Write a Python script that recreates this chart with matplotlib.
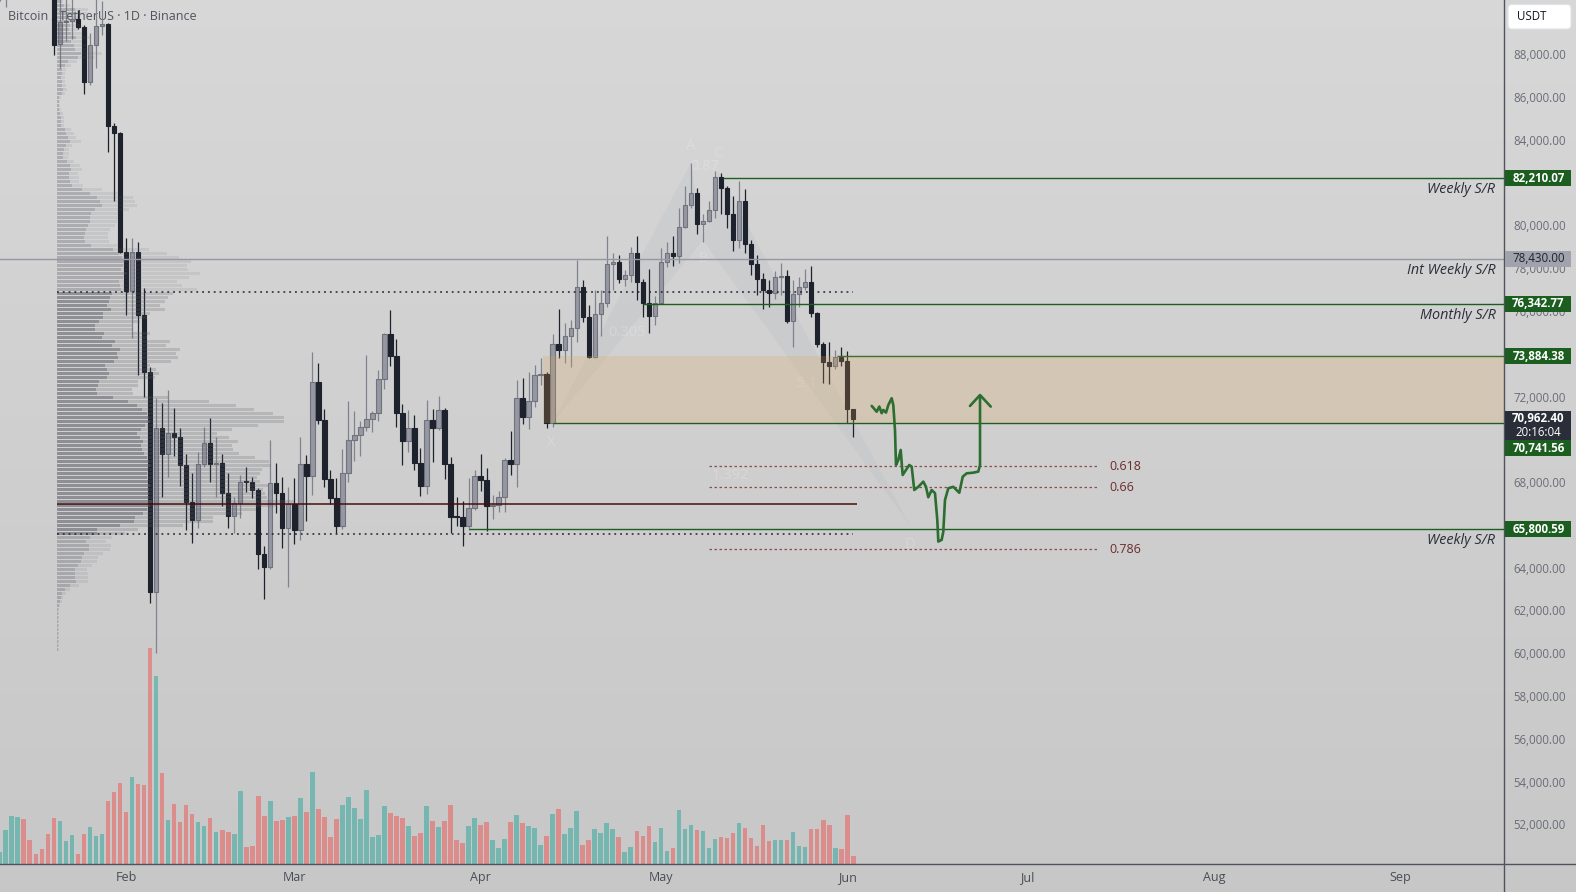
import numpy as np
import pandas as pd
import matplotlib
matplotlib.use("Agg")
import matplotlib.pyplot as plt
import matplotlib.dates as mdates
from matplotlib.patches import Rectangle, Polygon, FancyBboxPatch

plt.rcParams['font.family'] = ['Open Sans', 'DejaVu Sans']

# ------------------------------------------------------------------ data
dates = pd.date_range('2026-01-11', periods=143, freq='D')

open_k = [91.0, 91.9, 92.9, 94.6, 96.8, 95.5, 95.1, 95.0, 92.6,
          91.6, 88.47, 89.50, 89.56, 89.64, 89.26, 86.72, 88.43, 89.32, 89.40, 84.67, 84.32,
          78.77, 76.95, 78.77, 75.81, 73.16, 62.88, 70.54, 69.31, 70.30, 70.12,
          68.80, 67.06, 66.23, 68.83, 69.82, 68.83, 68.90, 67.48, 66.43, 67.01,
          68.02, 68.00, 67.63, 64.63, 64.05, 67.97, 67.47, 65.84, 66.98, 65.76,
          68.83, 68.30, 72.67, 70.90, 68.13, 67.24, 65.96, 68.41, 69.96, 70.19,
          70.56, 70.94, 71.22, 72.81, 74.92, 73.91, 71.25, 69.94, 70.53, 68.91,
          67.83, 70.90, 70.54, 71.37, 68.83, 66.38, 66.36, 65.96, 66.78, 68.29,
          68.10, 66.90, 66.93, 67.29, 69.02, 68.83, 71.92, 71.06, 71.78, 72.99,
          73.03, 70.75, 74.44, 74.16, 74.82, 75.19, 77.11, 75.71, 73.84, 75.85,
          76.36, 78.18, 78.28, 77.48, 77.67, 78.70, 77.37, 76.36, 75.78, 76.36,
          78.28, 78.70, 78.59, 79.91, 80.94, 81.50, 80.05, 80.22, 80.72, 82.25,
          81.76, 80.52, 79.32, 81.14, 79.12, 78.18, 77.48, 76.98, 76.86, 77.58,
          77.62, 75.55, 76.78, 77.11, 77.34, 75.92, 74.44, 73.63, 73.44, 73.86,
          73.66, 71.40]
high_k = [92.3, 93.5, 95.0, 97.5, 97.8, 96.0, 95.5, 95.2, 93.0,
          92.0, 90.7, 90.9, 91.0, 90.07, 89.37, 88.98, 90.6, 90.5, 89.45, 84.79, 84.35,
          79.43, 79.41, 79.24, 77.07, 73.40, 71.92, 71.68, 72.31, 71.46, 70.53,
          69.30, 68.41, 69.42, 70.59, 70.98, 70.12, 69.30, 68.44, 67.32, 68.33,
          68.69, 68.25, 67.71, 65.01, 69.99, 68.88, 68.22, 67.76, 68.18, 70.12,
          69.27, 74.07, 73.55, 71.42, 68.57, 68.18, 69.55, 71.79, 71.33, 70.85,
          73.94, 71.33, 73.24, 74.95, 76.05, 74.68, 71.65, 71.37, 71.14, 69.60,
          71.84, 71.42, 72.03, 71.46, 69.19, 67.32, 67.13, 68.18, 68.57, 69.32,
          68.65, 67.40, 67.59, 69.13, 70.39, 72.77, 72.87, 73.15, 73.48, 73.79,
          73.16, 74.92, 76.09, 75.44, 75.58, 78.38, 77.45, 76.28, 76.98, 76.98,
          79.51, 78.72, 78.62, 77.92, 78.98, 79.51, 77.50, 77.96, 76.70, 78.93,
          79.22, 79.51, 80.83, 81.84, 82.93, 81.74, 80.52, 81.14, 82.55, 82.47,
          81.84, 81.38, 82.08, 81.70, 79.32, 78.62, 77.76, 77.45, 77.87, 78.26,
          77.92, 77.45, 77.59, 77.95, 78.10, 75.97, 74.56, 74.54, 74.18, 74.33,
          74.13, 71.42]
low_k = [90.5, 90.23, 91.8, 94.0, 95.0, 94.8, 94.0, 92.3, 91.0,
         87.98, 87.35, 88.60, 88.70, 89.2, 86.14, 86.57, 87.35, 88.90, 83.45, 81.14, 78.7,
         75.81, 74.74, 73.01, 71.99, 62.36, 60.03, 67.32, 68.25, 69.24, 67.82,
         65.76, 65.14, 65.84, 68.72, 68.02, 67.32, 66.90, 65.84, 65.61, 66.31,
         67.55, 67.24, 63.92, 62.52, 63.92, 66.54, 64.93, 63.08, 65.09, 65.29,
         66.20, 67.40, 70.70, 67.79, 66.98, 65.63, 65.81, 68.02, 68.99, 69.24,
         70.40, 70.36, 70.87, 72.34, 73.43, 70.56, 68.80, 69.42, 68.57, 67.36,
         67.45, 68.95, 70.44, 68.15, 65.61, 65.95, 65.01, 65.76, 66.70, 67.60,
         65.73, 66.28, 66.62, 66.62, 68.33, 67.76, 70.72, 70.48, 71.50, 72.54,
         70.54, 70.59, 73.82, 73.55, 73.37, 74.56, 75.50, 73.80, 73.79, 74.84,
         76.20, 76.98, 77.32, 77.17, 77.37, 76.51, 75.73, 74.99, 75.36, 76.33,
         78.07, 78.12, 78.26, 79.86, 80.80, 79.59, 79.24, 80.15, 80.36, 80.52,
         79.89, 78.81, 78.93, 78.70, 77.68, 76.75, 76.11, 76.20, 76.56, 76.75,
         75.42, 74.33, 76.17, 76.98, 75.73, 74.33, 72.62, 72.57, 73.27, 73.44,
         70.75, 70.10]
close_k = [91.9, 92.9, 94.6, 96.8, 95.5, 95.1, 95.0, 92.6, 91.6,
           88.45, 89.50, 89.56, 89.64, 89.26, 86.72, 88.43, 89.32, 89.40, 84.67, 84.32, 78.77,
           76.95, 78.77, 75.81, 73.16, 62.88, 70.54, 69.31, 70.30, 70.12, 68.80,
           67.06, 66.23, 68.83, 69.82, 68.83, 68.90, 67.48, 66.43, 67.01, 68.02,
           68.00, 67.63, 64.63, 64.05, 67.97, 67.47, 65.84, 66.98, 65.76, 68.83,
           68.30, 72.67, 70.90, 68.13, 67.24, 65.96, 68.41, 69.96, 70.19, 70.56,
           70.94, 71.22, 72.81, 74.92, 73.91, 71.25, 69.94, 70.53, 68.91, 67.83,
           70.90, 70.54, 71.37, 68.83, 66.38, 66.36, 65.96, 66.78, 68.29, 68.10,
           66.90, 66.93, 67.29, 69.02, 68.83, 71.92, 71.06, 71.78, 72.99, 73.03,
           70.75, 74.44, 74.16, 74.82, 75.19, 77.11, 75.71, 73.84, 75.85, 76.36,
           78.18, 78.28, 77.48, 77.67, 78.70, 77.37, 76.36, 75.78, 76.36, 78.28,
           78.70, 78.59, 79.91, 80.94, 81.50, 80.05, 80.22, 80.72, 82.25, 81.76,
           80.52, 79.32, 81.14, 79.12, 78.18, 77.48, 76.98, 76.86, 77.58, 77.62,
           75.55, 76.78, 77.11, 77.34, 75.92, 74.44, 73.63, 73.44, 73.86, 73.66,
           71.40, 70.9624]
volume = [37, 103, 145, 142, 136, 73, 31, 46, 91, 139, 130, 70, 88, 31, 91, 112, 85, 91,
          190, 217, 244, 157, 262, 241, 238, 649, 565, 274, 133, 181, 127, 178, 151, 127,
          115, 139, 97, 103, 97, 91, 220, 52, 55, 205, 145, 190, 130, 133, 142, 145, 199,
          157, 277, 166, 142, 82, 136, 178, 202, 169, 136, 223, 82, 88, 175, 154, 145, 139,
          115, 85, 94, 175, 130, 112, 130, 178, 73, 64, 115, 139, 118, 127, 73, 49, 76,
          127, 148, 124, 115, 109, 58, 85, 151, 166, 91, 109, 160, 58, 73, 106, 94, 124,
          106, 82, 37, 52, 100, 85, 115, 67, 109, 40, 49, 163, 106, 118, 103, 100, 49, 76,
          82, 79, 94, 124, 109, 79, 55, 118, 70, 73, 73, 73, 97, 55, 52, 106, 106, 133,
          118, 49, 46, 148, 25]

# visible-range volume profile (rows from the top price down)
profile_top_k = 90.45
profile_row_k = 0.187
profile_total = [6, 13, 31, 30, 21, 20, 23, 21, 26, 33, 25, 30, 31, 45, 38, 20, 14, 9, 8, 8,
                 8, 9, 10, 8, 4, 3, 3, 4, 6, 7, 7, 7, 14, 17, 19, 24, 15, 12, 12, 11,
                 17, 23, 25, 21, 22, 22, 26, 45, 62, 76, 78, 80, 72, 62, 62, 60, 58, 53, 51, 51,
                 52, 62, 92, 110, 122, 134, 130, 131, 143, 132, 120, 125, 140, 116, 111, 108, 103, 108, 93, 90,
                 83, 75, 76, 93, 90, 113, 109, 123, 119, 121, 114, 93, 99, 102, 98, 81, 81, 75, 76, 111,
                 152, 179, 197, 216, 227, 227, 201, 175, 160, 172, 181, 175, 176, 182, 198, 212, 214, 205, 203, 200,
                 203, 212, 206, 208, 210, 237, 220, 199, 185, 156, 156, 126, 81, 68, 55, 49, 54, 53, 46, 41,
                 40, 35, 30, 31, 31, 31, 22, 13, 9, 6, 5, 3, 2, 2, 2, 2, 2, 2, 2, 2, 2, 2, 2]
profile_up = [4, 7, 18, 17, 12, 11, 13, 12, 14, 19, 14, 17, 18, 24, 21, 11, 8, 5, 5, 4,
              5, 5, 6, 5, 2, 2, 2, 2, 3, 4, 4, 4, 8, 9, 11, 13, 9, 7, 6, 6,
              10, 13, 14, 12, 12, 13, 15, 25, 33, 40, 43, 45, 38, 34, 33, 33, 31, 29, 28, 27,
              28, 34, 56, 62, 65, 68, 66, 64, 70, 66, 62, 63, 64, 55, 53, 52, 50, 54, 46, 46,
              42, 38, 38, 47, 45, 58, 55, 63, 60, 61, 57, 48, 50, 52, 50, 42, 41, 39, 40, 56,
              71, 80, 85, 90, 92, 93, 88, 84, 80, 83, 86, 84, 85, 87, 90, 92, 93, 91, 90, 90,
              91, 93, 92, 92, 92, 95, 93, 90, 86, 78, 77, 63, 40, 40, 33, 29, 32, 32, 27, 25,
              24, 21, 18, 18, 18, 19, 13, 8, 5, 4, 3, 2, 1, 1, 1, 1, 1, 1, 1, 1, 1, 1, 1]
value_area_high_k = 76.91
value_area_low_k = 65.57
poc_k = 66.97

int_weekly_level = 78430.00
sr_levels = [82210.07, 76342.77, 73884.38, 70741.56, 65800.59]
sr_starts = ['2026-05-11 08:00', '2026-04-28 00:00', '2026-05-30 06:00', '2026-04-13 00:00', '2026-03-30 00:00']
sr_texts = [('Weekly S/R', 82210.07), ('Int Weekly S/R', 78430.00),
            ('Monthly S/R', 76342.77), ('Weekly S/R', 65800.59)]
zone_low, zone_high = 70741.56, 73884.38
zone_start = '2026-04-11 08:00'

fib_labels = ['0.618', '0.66', '0.786']
fib_prices_k = [68.75, 67.76, 64.86]
fib_start, fib_end, fib_label_at = '2026-05-09 00:00', '2026-07-12 16:00', '2026-07-14 14:00'

pattern_names = ['X', 'A', 'B', 'C', 'D']
pattern_dates = ['2026-04-12 19:00', '2026-05-06 00:00', '2026-05-08 00:00', '2026-05-10 12:00', '2026-06-11 12:00']
pattern_prices_k = [70.70, 82.93, 79.30, 82.55, 65.95]
pattern_ratios = [('0.305', 0, 2), ('0.87', 1, 3), ('5.1', 2, 4), ('1.392', 0, 4)]

# hand-drawn projection (days after 1 Feb 2026, price in thousands)
path_day = [124.08, 124.91, 125.34, 125.74, 126.0, 126.46, 126.84, 127.4, 127.67, 127.95, 128.12,
            128.5, 128.9, 129.23, 129.78, 130.33, 130.73, 131.16, 131.83, 132.66, 133.11, 133.49,
            134.06, 134.61, 134.99, 135.16, 135.72, 135.99, 136.27, 136.82, 137.65, 138.65,
            139.22, 139.88, 140.98, 141.81, 142.1, 142.1]
path_price_k = [71.56, 71.29, 71.53, 71.22, 71.37, 71.25, 71.60, 71.92, 71.60, 70.44, 68.80,
                69.03, 69.50, 68.33, 68.57, 68.80, 68.72, 67.63, 67.78, 68.02, 67.78, 67.29,
                67.63, 67.48, 66.23, 65.22, 65.30, 65.68, 67.16, 67.71, 67.78, 67.50,
                68.25, 68.41, 68.44, 68.49, 68.80, 71.99]
arrow_day = [140.43, 142.1, 143.88]
arrow_price_k = [71.56, 72.07, 71.53]

month_ticks = ['2026-02-01', '2026-03-01', '2026-04-01', '2026-05-01', '2026-06-01',
               '2026-07-01', '2026-08-01', '2026-09-01']
month_labels = ['Feb', 'Mar', 'Apr', 'May', 'Jun', 'Jul', 'Aug', 'Sep']
price_ticks_k = [52, 54, 56, 58, 60, 62, 64, 66, 68, 72, 76, 78, 80, 84, 86, 88]
countdown = '20:16:04'
title = 'Bitcoin / TetherUS · 1D · Binance'


def dnum(s):
    return mdates.date2num(pd.Timestamp(s))


# ------------------------------------------------------------------ layout
W, H = 1576, 892
PLOT_W, PLOT_H = 1504.3, 864.3
PX_PER_DAY = 6.01
fig = plt.figure(figsize=(W / 100, H / 100), dpi=100)

bg = fig.add_axes([0, 0, 1, 1])
bg.set_zorder(0)
bg.set_xlim(0, W); bg.set_ylim(H, 0); bg.axis('off')
g = np.linspace(0.845, 0.782, 256)[:, None]
bg.imshow(np.dstack([g, g, g]), extent=[0, W, H, 0], aspect='auto')
bg.text(8, 16, title, ha='left', va='center', fontsize=9.0, color='#50535e')

rect = [0, (H - PLOT_H) / H, PLOT_W / W, PLOT_H / H]
axv = fig.add_axes(rect); axv.set_zorder(1); axv.patch.set_alpha(0); axv.axis('off')
ax = fig.add_axes(rect); ax.set_zorder(2); ax.patch.set_alpha(0)
ov = fig.add_axes([0, 0, 1, 1]); ov.set_zorder(3); ov.patch.set_alpha(0); ov.axis('off')
ov.set_xlim(0, W); ov.set_ylim(H, 0)

feb1 = dnum('2026-02-01')
x_left = feb1 - 126 / PX_PER_DAY
x_right = x_left + PLOT_W / PX_PER_DAY
for a in (ax, axv):
    a.set_xlim(x_left, x_right)
ax.set_ylim(50.130, 90.539)
axv.set_ylim(0, PLOT_H * 3)

x = mdates.date2num(dates)
o = np.array(open_k); h = np.array(high_k); l = np.array(low_k); c = np.array(close_k)
up = c >= o

# volume
vcol = np.where(up, '#26a69a80', '#ef535080')
axv.bar(x, volume, width=0.78, color=list(vcol), linewidth=0)

# candles
UP_FILL, UP_EDGE, DN = '#9598a1', '#70737d', '#1e222d'
ax.vlines(x[up], l[up], h[up], color='#80838d', lw=0.9, zorder=3)
ax.vlines(x[~up], l[~up], h[~up], color=DN, lw=0.9, zorder=3)
ax.bar(x[up], np.maximum(c - o, 0.045)[up], bottom=o[up], width=0.74,
       color=UP_FILL, edgecolor=UP_EDGE, linewidth=0.8, zorder=3.1)
ax.bar(x[~up], np.maximum(o - c, 0.045)[~up], bottom=c[~up], width=0.74,
       color=DN, edgecolor=DN, linewidth=0.8, zorder=3.1)

# volume profile (drawn over candles)
dpp = 1 / PX_PER_DAY
px0 = x_left + 57 * dpp
rows = profile_top_k - profile_row_k * np.arange(len(profile_total))
tot = np.array(profile_total); upv = np.array(profile_up)
va = (rows <= value_area_high_k) & (rows >= value_area_low_k)
base = (0.36, 0.37, 0.41)
col_up = [base + ((0.56,) if v else (0.33,)) for v in va]
col_rest = [base + ((0.22,) if v else (0.11,)) for v in va]
ax.barh(rows, upv * dpp, left=px0, height=profile_row_k * 0.78, color=col_up, linewidth=0, zorder=4)
ax.barh(rows, (tot - upv) * dpp, left=px0 + upv * dpp, height=profile_row_k * 0.78,
        color=col_rest, linewidth=0, zorder=4)
ax.hlines([value_area_high_k, value_area_low_k], px0, x[-1], colors='#1e222d',
          linestyles=(0, (1.2, 2.6)), lw=1.1, zorder=5)
ax.hlines(poc_k, px0, x[-1] + 0.6, colors='#4a0d0d', lw=1.1, zorder=5)

# harmonic pattern (very faint)
pts = [(dnum(d), p) for d, p in zip(pattern_dates, pattern_prices_k)]
for tri in ([0, 1, 2], [2, 3, 4]):
    ax.add_patch(Polygon([pts[i] for i in tri], closed=True, facecolor=(0.55, 0.6, 0.68, 0.09),
                         edgecolor='none', zorder=2.5))
for txt, i, j in pattern_ratios:
    ax.text((pts[i][0] + pts[j][0]) / 2, (pts[i][1] + pts[j][1]) / 2, txt, ha='center', va='center',
            fontsize=10.5, color=(1, 1, 1, 0.2), zorder=2.6)
for k, name in enumerate(pattern_names):
    dy = 0.8 if name in ('A', 'C') else -0.85
    ax.text(pts[k][0], pts[k][1] + dy, name, ha='center', va='center', fontsize=10.5,
            color=(1, 1, 1, 0.2), zorder=2.6)

# levels
ax.axhline(int_weekly_level / 1000, color='#9598a1', lw=1, zorder=5)
for lvl, st in zip(sr_levels, sr_starts):
    ax.hlines(lvl / 1000, dnum(st), x_right, colors='#1b5e20', lw=1, zorder=5)
zs = dnum(zone_start)
ax.add_patch(Rectangle((zs, zone_low / 1000), x_right - zs, (zone_high - zone_low) / 1000,
                       facecolor=(0.88, 0.64, 0.32, 0.22), edgecolor='none', zorder=6))

# fib levels
fs, fe, fl = dnum(fib_start), dnum(fib_end), dnum(fib_label_at)
ax.hlines(fib_prices_k, fs, fe, colors='#8d4d4d', linestyles=(0, (2, 2)), lw=0.9, zorder=5)
for t, p in zip(fib_labels, fib_prices_k):
    ax.text(fl, p, t, ha='left', va='center', fontsize=9, color='#6b2c2c', zorder=7)

# projection drawing
ax.plot(feb1 + np.array(path_day), path_price_k, color='#2b6e2f', lw=1.9, zorder=7,
        solid_joinstyle='round', solid_capstyle='round')
ax.plot(feb1 + np.array(arrow_day), arrow_price_k, color='#2b6e2f', lw=1.9, zorder=7,
        solid_joinstyle='round', solid_capstyle='round')

# axes
ax.yaxis.tick_right()
ax.set_yticks(price_ticks_k)
ax.set_yticklabels([f"{v * 1000:,.2f}" for v in price_ticks_k])
ax.tick_params(axis='y', length=0, pad=6.3, labelsize=8.3, labelcolor='#6a6d78')
ax.set_xticks([dnum(m) for m in month_ticks])
ax.set_xticklabels(month_labels)
ax.tick_params(axis='x', length=0, pad=5, labelsize=9, labelcolor='#4a4d57')
for s in ax.spines.values():
    s.set_visible(False)

ov.plot([PLOT_W, PLOT_W], [0, H], color='#50535e', lw=1)
ov.plot([0, W], [PLOT_H, PLOT_H], color='#50535e', lw=1)


def ypx(pk):
    return H - ax.transData.transform((x_left, pk))[1]


def box(yc, text, fc, tc, hgt=16, bold=True):
    ov.add_patch(Rectangle((1505, yc - hgt / 2), 66, hgt, facecolor=fc, edgecolor='none', zorder=5))
    ov.text(1538.5, yc, text, ha='center', va='center', fontsize=8.3, color=tc,
            fontweight='bold' if bold else 'normal', zorder=6)


for txt, lvl in sr_texts:
    ov.text(1495.5, ypx(lvl / 1000) + 11.5, txt, ha='right', va='center', style='italic',
            fontsize=10.4, color='#2a2e39')

for lvl in sr_levels:
    if lvl == zone_low:
        continue
    box(ypx(lvl / 1000), f"{lvl:,.2f}", '#1b5e20', 'white')
box(ypx(int_weekly_level / 1000), f"{int_weekly_level:,.2f}", '#a0a3ac', '#1e222d', bold=False)

y_last = ypx(c[-1])
ov.add_patch(Rectangle((1505, y_last - 8), 66, 29.5, facecolor='#2a2e39', edgecolor='none', zorder=5))
ov.text(1538.5, y_last, f"{c[-1] * 1000:,.2f}", ha='center', va='center', fontsize=8.3,
        color='white', fontweight='bold', zorder=6)
ov.text(1538.5, y_last + 13.5, countdown, ha='center', va='center', fontsize=8.3,
        color='white', zorder=6)
box(y_last + 29.5, f"{zone_low:,.2f}", '#1b5e20', 'white')

ov.add_patch(FancyBboxPatch((1508, 4.5), 63, 24.5, boxstyle='round,pad=0,rounding_size=4',
                            facecolor='white', edgecolor='#e0e3eb', lw=0.8, zorder=5))
ov.text(1517, 17, 'USDT', ha='left', va='center', fontsize=8.3, color='#131722', zorder=6)

fig.savefig('out.png', dpi=100)
